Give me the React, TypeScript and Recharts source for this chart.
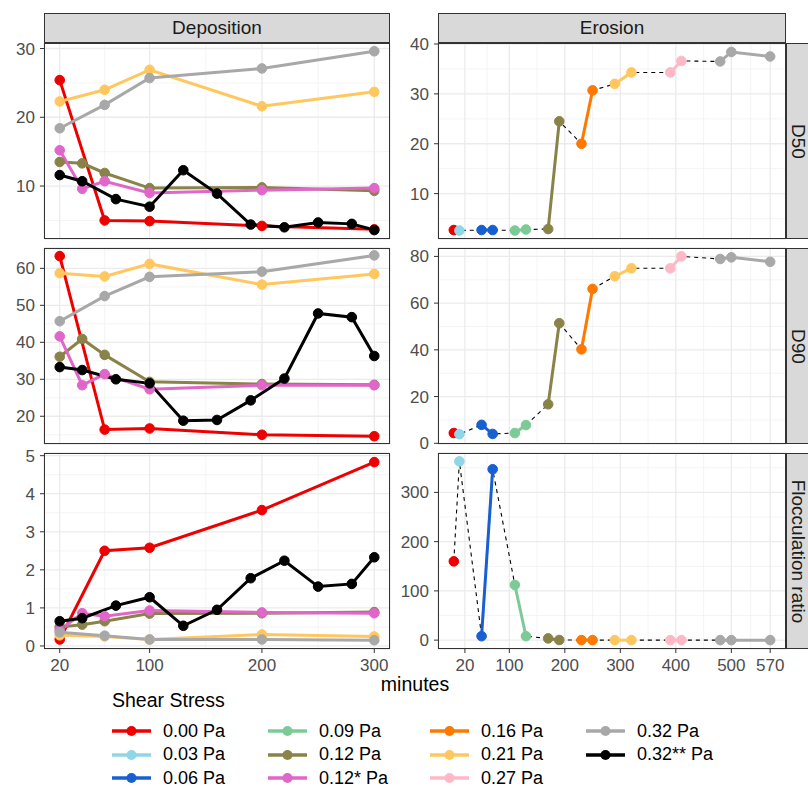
import { CartesianGrid, Line, LineChart, XAxis, YAxis } from 'recharts'

const FONT = '"Liberation Sans", Arial, Helvetica, sans-serif'

// shear stress groups (legend order)
const stressLabels = ['0.00 Pa', '0.03 Pa', '0.06 Pa', '0.09 Pa', '0.12 Pa', '0.12* Pa', '0.16 Pa', '0.21 Pa', '0.27 Pa', '0.32 Pa', '0.32** Pa']
const stressColors = ['#EE0000', '#8FD6E6', '#1860D2', '#7CCB96', '#8A8349', '#E066C9', '#FF7800', '#FFC75E', '#FFB8C6', '#A8A8A8', '#000000']

// deposition: minutes for each run
const depTimesA = [20, 60, 100, 200, 300]
const depTimesB = [20, 40, 60, 100, 200, 300]
const depTimesC = [20, 40, 70, 100, 130, 160, 190, 220, 250, 280, 300]
const depGroups = [0, 4, 5, 7, 9, 10]
const depTimes = [depTimesA, depTimesB, depTimesB, depTimesA, depTimesA, depTimesC]

const depD50 = [
  [25.4, 5.0, 4.9, 4.2, 3.7],
  [13.5, 13.3, 11.9, 9.7, 9.8, 9.3],
  [15.2, 9.6, 10.7, 9.0, 9.4, 9.7],
  [22.3, 24.0, 26.9, 21.6, 23.7],
  [18.4, 21.8, 25.7, 27.1, 29.6],
  [11.6, 10.7, 8.1, 7.0, 12.3, 8.9, 4.4, 4.0, 4.7, 4.5, 3.6],
]
const depD90 = [
  [63.3, 16.4, 16.7, 15.0, 14.6],
  [36.1, 40.9, 36.6, 29.3, 28.7, 28.5],
  [41.6, 28.4, 31.4, 27.3, 28.4, 28.4],
  [58.7, 57.8, 61.2, 55.6, 58.5],
  [45.7, 52.5, 57.7, 59.1, 63.5],
  [33.3, 32.5, 30.0, 28.9, 18.8, 19.0, 24.3, 30.2, 47.8, 46.8, 36.3],
]
const depFloc = [
  [0.17, 2.5, 2.58, 3.57, 4.83],
  [0.5, 0.56, 0.65, 0.85, 0.86, 0.89],
  [0.42, 0.86, 0.78, 0.93, 0.88, 0.86],
  [0.28, 0.25, 0.17, 0.3, 0.25],
  [0.36, 0.27, 0.17, 0.17, 0.15],
  [0.65, 0.73, 1.06, 1.28, 0.53, 0.95, 1.78, 2.24, 1.56, 1.63, 2.33],
]

// erosion: one short run per shear stress step
const eroGroups = [0, 1, 2, 3, 4, 6, 7, 8, 9]
const eroTimes = [[0], [10], [50, 70], [110, 130], [170, 190], [230, 250], [290, 320], [390, 410], [480, 500, 570]]
const eroD50 = [[2.7], [2.6], [2.7, 2.7], [2.6, 2.8], [2.9, 24.5], [20.0, 30.7], [32.0, 34.3], [34.3, 36.6], [36.5, 38.4, 37.5]]
const eroD90 = [[4.4], [3.9], [7.9, 4.0], [4.4, 7.8], [16.7, 51.4], [40.2, 66.1], [71.5, 74.9], [74.9, 80.0], [78.9, 79.6, 77.7]]
const eroFloc = [[160], [363], [8, 347], [112, 8], [3.5, 0.3], [0, 0], [0, 0], [0, 0], [0, 0, 0]]

const depXTicks = [20, 100, 200, 300]
const depXMinor = [60, 150, 250]
const eroXTicks = [20, 100, 200, 300, 400, 500, 570]
const eroXMinor = [60, 150, 250, 350, 450, 535]

type Pt = { t: number; v: number }
type Series = { color: string; pts: Pt[] }

const toSeries = (groups: number[], times: number[][], vals: number[][]): Series[] =>
  groups.map((g, i) => ({ color: stressColors[g], pts: times[i].map((t, j) => ({ t, v: vals[i][j] })) }))

const chain = (s: Series[]): Pt[] => s.flatMap((d) => d.pts)

const tickStyle = { fill: '#4D4D4D', fontSize: 17, fontFamily: FONT }

interface PanelProps {
  x: number
  y: number
  w: number
  h: number
  yw: number
  xDomain: [number, number]
  xTicks: number[]
  xMinor: number[]
  yDomain: [number, number]
  yTicks: number[]
  yMinor: number[]
  series: Series[]
  dashed?: Pt[]
  showX: boolean
}

const PAD = 10

function Panel({ x, y, w, h, yw, xDomain, xTicks, xMinor, yDomain, yTicks, yMinor, series, dashed, showX }: PanelProps) {
  const xh = showX ? 32 : 0
  return (
    <>
      <div style={{ position: 'absolute', left: x - yw, top: y - PAD }}>
        <LineChart width={yw + w + PAD} height={h + xh + 2 * PAD} margin={{ top: PAD, right: PAD, bottom: PAD, left: 0 }}>
          <XAxis xAxisId="minor" type="number" dataKey="t" domain={xDomain} ticks={xMinor} hide allowDataOverflow />
          <YAxis yAxisId="minor" type="number" domain={yDomain} ticks={yMinor} hide allowDataOverflow />
          <CartesianGrid xAxisId="minor" yAxisId="minor" stroke="#F1F1F1" strokeWidth={0.8} />
          <CartesianGrid stroke="#EBEBEB" strokeWidth={1.3} />
          <XAxis
            type="number"
            dataKey="t"
            domain={xDomain}
            ticks={xTicks}
            interval={0}
            allowDataOverflow
            hide={!showX}
            height={xh}
            axisLine={false}
            tickSize={4}
            tickMargin={6}
            tickLine={{ stroke: '#333333' }}
            tick={tickStyle}
          />
          <YAxis
            type="number"
            domain={yDomain}
            ticks={yTicks}
            interval={0}
            allowDataOverflow
            width={yw}
            axisLine={false}
            tickSize={4}
            tickMargin={5}
            tickLine={{ stroke: '#333333' }}
            tick={tickStyle}
          />
          {dashed && (
            <Line data={dashed} dataKey="v" stroke="#000000" strokeWidth={1.1} strokeDasharray="4 4" dot={false} activeDot={false} isAnimationActive={false} />
          )}
          {series.map((s, i) => (
            <Line key={'l' + i} data={s.pts} dataKey="v" stroke={s.color} strokeWidth={3} dot={false} activeDot={false} isAnimationActive={false} />
          ))}
          {series.map((s, i) => (
            <Line
              key={'p' + i}
              data={s.pts}
              dataKey="v"
              stroke="none"
              dot={{ r: 4.8, fill: s.color, stroke: s.color, strokeWidth: 1 }}
              activeDot={false}
              isAnimationActive={false}
            />
          ))}
        </LineChart>
      </div>
      <div style={{ position: 'absolute', left: x, top: y, width: w, height: h, border: '1px solid #333333', boxSizing: 'border-box', pointerEvents: 'none' }} />
    </>
  )
}

function LegendKey({ color }: { color: string }) {
  return (
    <svg width={39} height={16} style={{ display: 'block' }}>
      <line x1={0} x2={39} y1={8} y2={8} stroke={color} strokeWidth={3.5} />
      <circle cx={19.5} cy={8} r={5} fill={color} />
    </svg>
  )
}

const LEFT = { x: 44, w: 346, yw: 44 }
const RIGHT = { x: 438, w: 348, yw: 48 }
const ROWS = [43, 248, 453]
const PH = 196

export default function App() {
  const rows = [
    {
      label: 'D50',
      dep: toSeries(depGroups, depTimes, depD50),
      ero: toSeries(eroGroups, eroTimes, eroD50),
      depY: [2.3, 30.8] as [number, number],
      depTicks: [10, 20, 30],
      depMinor: [5, 15, 25],
      eroY: [0.9, 40.2] as [number, number],
      eroTicks: [10, 20, 30, 40],
      eroMinor: [5, 15, 25, 35],
    },
    {
      label: 'D90',
      dep: toSeries(depGroups, depTimes, depD90),
      ero: toSeries(eroGroups, eroTimes, eroD90),
      depY: [12.5, 65.5] as [number, number],
      depTicks: [20, 30, 40, 50, 60],
      depMinor: [15, 25, 35, 45, 55, 65],
      eroY: [-0.3, 83.6] as [number, number],
      eroTicks: [0, 20, 40, 60, 80],
      eroMinor: [10, 30, 50, 70],
    },
    {
      label: 'Flocculation ratio',
      dep: toSeries(depGroups, depTimes, depFloc),
      ero: toSeries(eroGroups, eroTimes, eroFloc),
      depY: [-0.08, 5.07] as [number, number],
      depTicks: [0, 1, 2, 3, 4, 5],
      depMinor: [0.5, 1.5, 2.5, 3.5, 4.5],
      eroY: [-18, 380] as [number, number],
      eroTicks: [0, 100, 200, 300],
      eroMinor: [50, 150, 250, 350],
    },
  ]

  const legendCols = [[0, 1, 2], [3, 4, 5], [6, 7, 8], [9, 10]]
  const colX = [112, 268, 430, 586]
  const rowY = [731, 754.5, 778]

  const strip = { background: '#D9D9D9', border: '1px solid #333333', boxSizing: 'border-box' as const, position: 'absolute' as const, display: 'flex', alignItems: 'center', justifyContent: 'center', color: '#1A1A1A', fontSize: 19, fontFamily: FONT }

  return (
    <div style={{ position: 'absolute', left: 0, top: 0, width: 808, height: 791, overflow: 'hidden', background: '#FFFFFF', fontFamily: FONT }}>
      {rows.map((r, i) => (
        <div key={r.label}>
          <Panel
            x={LEFT.x}
            y={ROWS[i]}
            w={LEFT.w}
            h={PH}
            yw={LEFT.yw}
            xDomain={[6, 314]}
            xTicks={depXTicks}
            xMinor={depXMinor}
            yDomain={r.depY}
            yTicks={r.depTicks}
            yMinor={r.depMinor}
            series={r.dep}
            showX={i === 2}
          />
          <Panel
            x={RIGHT.x}
            y={ROWS[i]}
            w={RIGHT.w}
            h={PH}
            yw={RIGHT.yw}
            xDomain={[-28.5, 598.5]}
            xTicks={eroXTicks}
            xMinor={eroXMinor}
            yDomain={r.eroY}
            yTicks={r.eroTicks}
            yMinor={r.eroMinor}
            series={r.ero}
            dashed={chain(r.ero)}
            showX={i === 2}
          />
          <div style={{ ...strip, left: RIGHT.x + RIGHT.w, top: ROWS[i], width: 24, height: PH, borderRight: 'none' }}>
            <span style={{ transform: 'rotate(90deg)', whiteSpace: 'nowrap', display: 'inline-block', lineHeight: 1 }}>{r.label}</span>
          </div>
        </div>
      ))}
      <div style={{ ...strip, left: LEFT.x, top: 13, width: LEFT.w, height: 30 }}>Deposition</div>
      <div style={{ ...strip, left: RIGHT.x, top: 13, width: RIGHT.w, height: 30 }}>Erosion</div>
      <div style={{ position: 'absolute', left: 0, width: 830, top: 672, textAlign: 'center', fontSize: 19.5, color: '#000000', lineHeight: '24px' }}>minutes</div>
      <div style={{ position: 'absolute', left: 112, top: 688, fontSize: 19.5, color: '#000000', lineHeight: '24px' }}>Shear Stress</div>
      {legendCols.map((col, ci) =>
        col.map((g, ri) => (
          <div key={g} style={{ position: 'absolute', left: colX[ci], top: rowY[ri] - 12, height: 24, display: 'flex', alignItems: 'center' }}>
            <LegendKey color={stressColors[g]} />
            <span style={{ marginLeft: 12, fontSize: 18, color: '#000000', whiteSpace: 'nowrap' }}>{stressLabels[g]}</span>
          </div>
        )),
      )}
    </div>
  )
}
